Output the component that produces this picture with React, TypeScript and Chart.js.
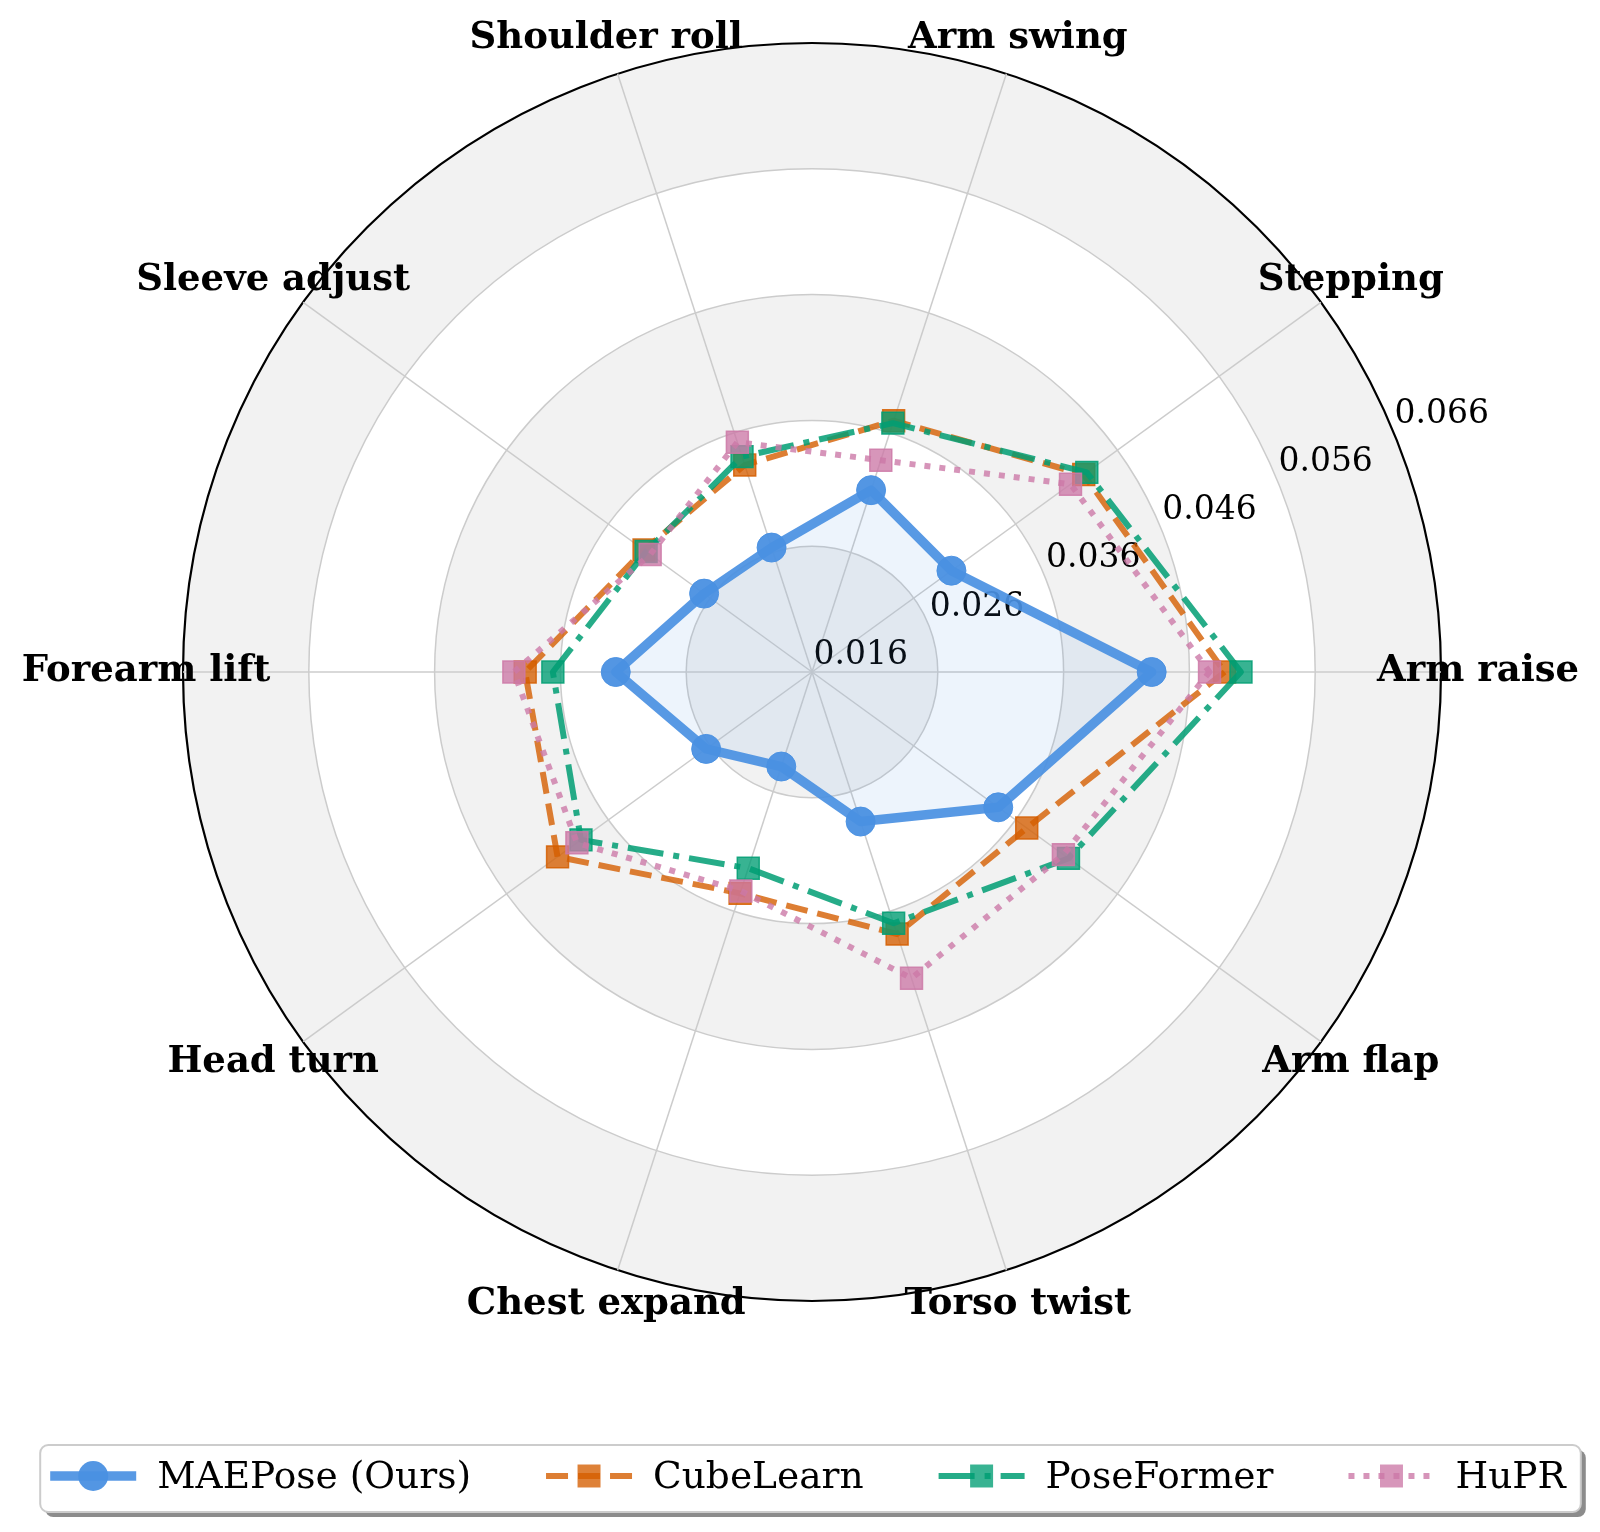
import React, { useEffect, useRef } from 'react';
import { Chart, registerables } from 'chart.js';

Chart.register(...registerables);

// categories in matplotlib order: counter-clockwise from 3 o'clock
const categories = [
  'Arm raise',
  'Stepping',
  'Arm swing',
  'Shoulder roll',
  'Sleeve adjust',
  'Forearm lift',
  'Head turn',
  'Chest expand',
  'Torso twist',
  'Arm flap',
];

const maePose = [0.0430, 0.0297, 0.0312, 0.0264, 0.0266, 0.0316, 0.0264, 0.0239, 0.0285, 0.0343];
const cubeLearn = [0.0488, 0.0427, 0.0370, 0.0333, 0.0325, 0.0388, 0.0410, 0.0345, 0.0379, 0.0371];
const poseFormer = [0.0501, 0.0430, 0.0368, 0.0340, 0.0323, 0.0366, 0.0387, 0.0324, 0.0370, 0.0412];
const hupr = [0.0476, 0.0414, 0.0337, 0.0352, 0.0319, 0.0397, 0.0391, 0.0343, 0.0416, 0.0407];

const rMin = 0.016;
const rMax = 0.066;
const rStep = 0.01;
const rLabelAngle = 22.5; // degrees, where the radial tick labels sit

// chart.js walks clockwise, the reference walks counter-clockwise
const ccw = <T,>(a: T[]): T[] => [a[0], ...a.slice(1).reverse()];

const SERIF = '"DejaVu Serif", serif';

// alternating grey / white rings behind the grid
const bandsPlugin = {
  id: 'bands',
  beforeDraw(chart: any) {
    const s = chart.scales.r;
    const ctx = chart.ctx;
    const vals = s.ticks.map((t: any) => t.value);
    ctx.save();
    for (let i = vals.length - 1; i >= 1; i--) {
      const rad = s.getDistanceFromCenterForValue(vals[i]);
      ctx.fillStyle = (vals.length - 1 - i) % 2 === 0 ? '#f2f2f2' : '#ffffff';
      ctx.beginPath();
      ctx.arc(s.xCenter, s.yCenter, rad, 0, Math.PI * 2);
      ctx.fill();
    }
    ctx.restore();
  },
};

// radial tick labels along 22.5deg, under the data
const rTicksPlugin = {
  id: 'rTicks',
  beforeDatasetsDraw(chart: any) {
    const s = chart.scales.r;
    const ctx = chart.ctx;
    const a = (rLabelAngle * Math.PI) / 180;
    ctx.save();
    ctx.font = `33px ${SERIF}`;
    ctx.fillStyle = '#000';
    ctx.textAlign = 'left';
    ctx.textBaseline = 'alphabetic';
    s.ticks.forEach((t: any) => {
      const d = s.getDistanceFromCenterForValue(t.value);
      const x = s.xCenter + d * Math.cos(a) + 1.5;
      const y = s.yCenter - d * Math.sin(a) - 8.3;
      ctx.fillText(t.value.toFixed(3), x, y);
    });
    ctx.restore();
  },
};

// category labels + framed legend
const labelsPlugin = {
  id: 'labelsAndLegend',
  afterDraw(chart: any) {
    const s = chart.scales.r;
    const ctx = chart.ctx;
    ctx.save();
    ctx.font = `bold 37px ${SERIF}`;
    ctx.fillStyle = '#000';
    ctx.textAlign = 'center';
    ctx.textBaseline = 'alphabetic';
    chart.data.labels.forEach((lab: string, i: number) => {
      const p = s.getPointPosition(i, s.drawingArea + 37);
      ctx.fillText(lab, p.x, p.y + 9);
    });

    // legend
    const sets = chart.data.datasets;
    ctx.font = `37.5px ${SERIF}`;
    const sampleW = 86;
    const textGap = 21;
    const itemGap = 75;
    const widths = sets.map((d: any) => ctx.measureText(d.label).width);
    const total =
      widths.reduce((acc: number, w: number) => acc + sampleW + textGap + w, 0) +
      itemGap * (sets.length - 1);
    let x = s.xCenter - 4 - total / 2;
    const cy = chart.height - 56;
    const left = x - 10;
    const right = x + total + 15;
    const top = cy - 31;
    const bottom = cy + 36;

    ctx.fillStyle = 'rgba(0,0,0,0.45)';
    ctx.beginPath();
    ctx.roundRect(left + 5, top + 5, right - left, bottom - top, 8);
    ctx.fill();
    ctx.fillStyle = '#ffffff';
    ctx.strokeStyle = '#cccccc';
    ctx.lineWidth = 2;
    ctx.beginPath();
    ctx.roundRect(left, top, right - left, bottom - top, 8);
    ctx.fill();
    ctx.stroke();

    sets.forEach((d: any, i: number) => {
      ctx.save();
      ctx.strokeStyle = d.borderColor;
      ctx.lineWidth = d.borderWidth;
      ctx.lineCap = 'butt';
      ctx.setLineDash(d.borderDash || []);
      ctx.beginPath();
      ctx.moveTo(x, cy);
      ctx.lineTo(x + sampleW, cy);
      ctx.stroke();
      ctx.setLineDash([]);
      const mx = x + sampleW / 2;
      const r = d.pointRadius + d.pointBorderWidth / 2;
      ctx.fillStyle = d.pointBackgroundColor;
      ctx.beginPath();
      if (d.pointStyle === 'circle') {
        ctx.arc(mx, cy, r, 0, Math.PI * 2);
      } else {
        const h = r * Math.SQRT1_2;
        ctx.rect(mx - h, cy - h, 2 * h, 2 * h);
      }
      ctx.fill();
      ctx.restore();

      ctx.fillStyle = '#000';
      ctx.textAlign = 'left';
      ctx.fillText(d.label, x + sampleW + textGap, cy + 12);
      x += sampleW + textGap + widths[i] + itemGap;
    });
    ctx.restore();
  },
};

export default function App() {
  const canvasRef = useRef<HTMLCanvasElement>(null);
  const chartRef = useRef<Chart | null>(null);

  useEffect(() => {
    if (!canvasRef.current) return;
    const ctx = canvasRef.current.getContext('2d');
    if (!ctx) return;

    const squareSet = (
      label: string,
      values: number[],
      rgb: string,
      lineAlpha: number,
      dash: number[],
      order: number,
    ) => ({
      label,
      data: ccw(values),
      borderColor: `rgba(${rgb},${lineAlpha})`,
      backgroundColor: 'transparent',
      fill: false,
      borderWidth: 6,
      borderDash: dash,
      borderCapStyle: 'butt',
      borderJoinStyle: 'round',
      pointStyle: 'rect',
      pointRadius: 15.5,
      pointBorderWidth: 1.5,
      pointBackgroundColor: `rgba(${rgb},0.78)`,
      pointBorderColor: `rgba(${rgb},0.85)`,
      order,
    });

    chartRef.current = new Chart(ctx, {
      type: 'radar',
      data: {
        labels: ccw(categories),
        datasets: [
          {
            label: 'MAEPose (Ours)',
            data: ccw(maePose),
            borderColor: 'rgba(74,144,226,0.92)',
            backgroundColor: 'rgba(74,144,226,0.1)',
            fill: true,
            borderWidth: 9.5,
            borderJoinStyle: 'round',
            pointStyle: 'circle',
            pointRadius: 14.5,
            pointBorderWidth: 1,
            pointBackgroundColor: 'rgba(74,144,226,0.95)',
            pointBorderColor: 'rgba(74,144,226,0.95)',
            order: 4,
          } as any,
          squareSet('CubeLearn', cubeLearn, '213,94,0', 0.8, [22, 10], 3),
          squareSet('PoseFormer', poseFormer, '0,158,115', 0.85, [36, 10, 6, 10], 2),
          squareSet('HuPR', hupr, '204,121,167', 0.8, [6, 9], 1),
        ],
      },
      options: {
        animation: false,
        responsive: true,
        maintainAspectRatio: false,
        layout: { padding: { left: 183, right: 159, top: 43, bottom: 231 } },
        elements: { line: { tension: 0 } },
        plugins: {
          legend: { display: false },
          tooltip: { enabled: false },
        },
        scales: {
          r: {
            min: rMin,
            max: rMax,
            startAngle: 90,
            ticks: { display: false, stepSize: rStep },
            pointLabels: { display: false },
            grid: {
              circular: true,
              color: (c: any) =>
                c.tick && Math.abs(c.tick.value - rMax) < 1e-9 ? '#000000' : '#cccccc',
              lineWidth: (c: any) =>
                c.tick && Math.abs(c.tick.value - rMax) < 1e-9 ? 2.2 : 1.5,
            },
            angleLines: { color: '#cccccc', lineWidth: 1.5 },
          },
        },
      } as any,
      plugins: [bandsPlugin, rTicksPlugin, labelsPlugin],
    });

    return () => {
      if (chartRef.current) {
        chartRef.current.destroy();
        chartRef.current = null;
      }
    };
  }, []);

  return (
    <div
      style={{
        position: 'fixed',
        left: 0,
        top: 0,
        width: 1600,
        height: 1532,
        background: '#ffffff',
      }}
    >
      <canvas ref={canvasRef} />
    </div>
  );
}
